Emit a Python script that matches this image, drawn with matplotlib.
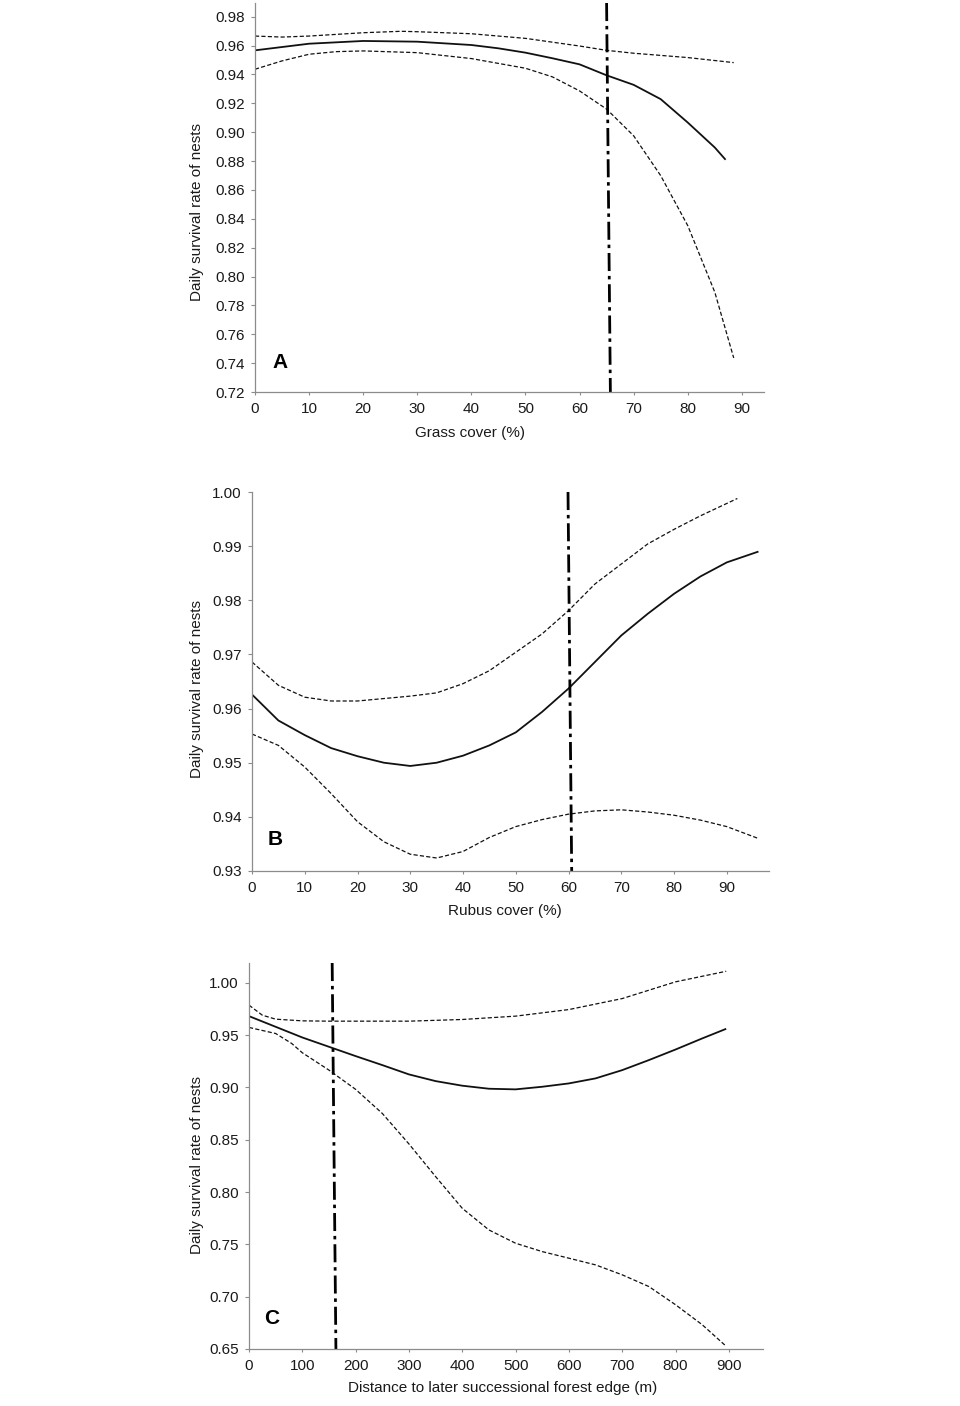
import matplotlib
matplotlib.use("Agg")
import matplotlib.pyplot as plt
from matplotlib.patches import Rectangle

plt.rcParams['font.family'] = ['Liberation Sans', 'DejaVu Sans']
plt.rcParams['lines.scale_dashes'] = False

# ---- panel A: grass cover ----
grass_x = [0, 10, 20, 30, 40, 45, 50, 55, 60, 65, 70, 75, 80, 85, 87]
grass_dsr = [0.9567, 0.9613, 0.9632, 0.9627, 0.9604, 0.9581, 0.9551, 0.9512,
             0.9470, 0.9394, 0.9328, 0.9229, 0.9067, 0.8894, 0.8809]
grass_up_x = [0, 5, 10, 20, 27, 30, 40, 50, 60, 65, 70, 80, 88.5]
grass_up = [0.9666, 0.9659, 0.9666, 0.9689, 0.9699, 0.9696, 0.9682, 0.9650,
            0.9597, 0.9567, 0.9547, 0.9517, 0.9482]
grass_lo_x = [0, 5, 10, 15, 20, 30, 40, 50, 55, 60, 65, 70, 75, 80, 85, 88.5]
grass_lo = [0.9436, 0.9494, 0.9540, 0.9558, 0.9563, 0.9551, 0.9510, 0.9443,
            0.9383, 0.9286, 0.9160, 0.8975, 0.8699, 0.8353, 0.7892, 0.7436]
grass_thresh = [65.0, 65.7]

# ---- panel B: rubus cover ----
rubus_x = [0, 5, 10, 15, 20, 25, 30, 35, 40, 45, 50, 55, 60, 65, 70, 75, 80,
           85, 90, 96]
rubus_dsr = [0.9626, 0.9578, 0.9551, 0.9527, 0.9512, 0.9500, 0.9494, 0.9500,
             0.9513, 0.9532, 0.9556, 0.9594, 0.9637, 0.9686, 0.9735, 0.9775,
             0.9812, 0.9844, 0.9870, 0.9890]
rubus_up_x = [0, 5, 10, 15, 20, 30, 35, 40, 45, 50, 55, 60, 65, 70, 75, 80,
              85, 92]
rubus_up = [0.9686, 0.9643, 0.9621, 0.9614, 0.9614, 0.9623, 0.9629, 0.9646,
            0.9670, 0.9704, 0.9738, 0.9781, 0.9830, 0.9867, 0.9904, 0.9931,
            0.9956, 0.9988]
rubus_lo_x = [0, 5, 10, 15, 20, 25, 30, 35, 40, 45, 50, 55, 60, 65, 70, 75,
              80, 85, 90, 96]
rubus_lo = [0.9553, 0.9532, 0.9492, 0.9443, 0.9391, 0.9354, 0.9331, 0.9324,
            0.9336, 0.9362, 0.9382, 0.9395, 0.9405, 0.9411, 0.9413, 0.9409,
            0.9403, 0.9394, 0.9382, 0.9360]
rubus_thresh = [59.9, 60.6]

# ---- panel C: distance to forest edge ----
dist_x = [0, 50, 100, 150, 200, 250, 300, 350, 400, 450, 500, 550, 600, 650,
          700, 750, 800, 850, 895]
dist_dsr = [0.9682, 0.9580, 0.9478, 0.9389, 0.9300, 0.9214, 0.9125, 0.9061,
            0.9017, 0.8988, 0.8982, 0.9007, 0.9039, 0.9087, 0.9166, 0.9262,
            0.9363, 0.9469, 0.9561]
dist_up_x = [0, 25, 50, 100, 150, 200, 300, 400, 500, 600, 700, 800, 895]
dist_up = [0.9787, 0.9691, 0.9653, 0.9637, 0.9634, 0.9634, 0.9634, 0.9650,
           0.9682, 0.9745, 0.9850, 1.0010, 1.0111]
dist_lo_x = [0, 50, 80, 100, 150, 200, 250, 300, 350, 400, 450, 500, 550,
             600, 650, 700, 750, 800, 850, 893]
dist_lo = [0.9574, 0.9516, 0.9421, 0.9332, 0.9166, 0.8982, 0.8752, 0.8460,
           0.8148, 0.7845, 0.7638, 0.7511, 0.7431, 0.7368, 0.7304, 0.7209,
           0.7097, 0.6923, 0.6732, 0.6535]
dist_thresh = [156, 163]

ylabel = 'Daily survival rate of nests'

W, H = 960, 1406
fig = plt.figure(figsize=(W / 100, H / 100), dpi=100)
fig.patch.set_facecolor('none')


def frac(left, top, right, bottom):
    # pixel box -> figure fraction [l, b, w, h]
    return [left / W, 1 - bottom / H, (right - left) / W, (bottom - top) / H]


def white_box(left, top, right, bottom):
    fig.patches.append(Rectangle((left / W, 1 - bottom / H), (right - left) / W,
                                 (bottom - top) / H, transform=fig.transFigure,
                                 facecolor='white', edgecolor='none', zorder=-5))


# white pieces of the original (rest is transparent)
for box in [(212, 0, 765, 400), (240, 392, 765, 419), (184, 105, 212, 300), (410, 423, 528, 443),
            (212, 480, 770, 880), (245, 871, 770, 898), (184, 595, 210, 785), (447, 900, 563, 922),
            (205, 957, 763, 1358), (240, 1349, 763, 1375), (183, 1065, 210, 1262), (345, 1377, 662, 1400)]:
    white_box(*box)

panels = [
    dict(rect=(255, 3, 764, 392), xlim=(0, 94.1), ylim=(0.72, 0.9895),
         xticks=range(0, 91, 10), yticks=[0.72 + 0.02 * i for i in range(14)],
         fmt='{:.2f}', xlabel='Grass cover (%)', letter='A',
         mean=(grass_x, grass_dsr), up=(grass_up_x, grass_up), lo=(grass_lo_x, grass_lo),
         thresh=grass_thresh, ylab=(-0.114, 0.463), xlab=(0.422, -0.105), let=(0.049, 0.075)),
    dict(rect=(252, 492, 769, 871), xlim=(0, 98), ylim=(0.93, 1.0),
         xticks=range(0, 91, 10), yticks=[0.93 + 0.01 * i for i in range(8)],
         fmt='{:.2f}', xlabel='Rubus cover (%)', letter='B',
         mean=(rubus_x, rubus_dsr), up=(rubus_up_x, rubus_up), lo=(rubus_lo_x, rubus_lo),
         thresh=rubus_thresh, ylab=(-0.106, 0.480), xlab=(0.489, -0.106), let=(0.044, 0.082)),
    dict(rect=(249, 963, 763, 1349), xlim=(0, 964), ylim=(0.65, 1.019),
         xticks=range(0, 901, 100), yticks=[0.65 + 0.05 * i for i in range(8)],
         fmt='{:.2f}', xlabel='Distance to later successional forest edge (m)', letter='C',
         mean=(dist_x, dist_dsr), up=(dist_up_x, dist_up), lo=(dist_lo_x, dist_lo),
         thresh=dist_thresh, ylab=(-0.101, 0.477), xlab=(0.494, -0.101), let=(0.045, 0.080)),
]

for p in panels:
    ax = fig.add_axes(frac(*p['rect']))
    ax.set_facecolor('white')
    ax.set_xlim(*p['xlim'])
    ax.set_ylim(*p['ylim'])

    ax.plot(*p['mean'], color='#111111', lw=1.3, solid_capstyle='butt')
    ax.plot(*p['up'], color='#111111', lw=0.9, linestyle=(0, (3.0, 1.6)))
    ax.plot(*p['lo'], color='#111111', lw=0.9, linestyle=(0, (3.0, 1.6)))
    ax.plot(p['thresh'], p['ylim'][::-1], color='black', lw=2.0,
            linestyle=(0, (13, 3.5, 2.5, 3.5)), clip_on=False)

    for s in ['top', 'right']:
        ax.spines[s].set_visible(False)
    for s in ['left', 'bottom']:
        ax.spines[s].set_color('#8c8c8c')
        ax.spines[s].set_linewidth(0.9)

    ax.set_xticks(list(p['xticks']))
    ax.set_yticks(p['yticks'])
    ax.set_yticklabels([p['fmt'].format(v) for v in p['yticks']])
    ax.tick_params(axis='y', direction='out', length=3, width=0.8, color='#8c8c8c',
                   pad=4.5, labelsize=11, labelcolor='#1a1a1a')
    ax.tick_params(axis='x', direction='out', length=2, width=0.8, color='#8c8c8c',
                   pad=5.5, labelsize=11, labelcolor='#1a1a1a')

    ax.set_ylabel(ylabel, fontsize=11, color='#1a1a1a')
    ax.yaxis.set_label_coords(*p['ylab'])
    ax.yaxis.label.set_va('center')
    ax.set_xlabel(p['xlabel'], fontsize=11, color='#1a1a1a')
    ax.xaxis.set_label_coords(*p['xlab'])
    ax.xaxis.label.set_va('center')

    ax.text(p['let'][0], p['let'][1], p['letter'], transform=ax.transAxes,
            ha='center', va='center', fontsize=15, fontweight='bold', color='black')

fig.savefig('out.png', dpi=100, facecolor=(0, 0, 0, 0))
